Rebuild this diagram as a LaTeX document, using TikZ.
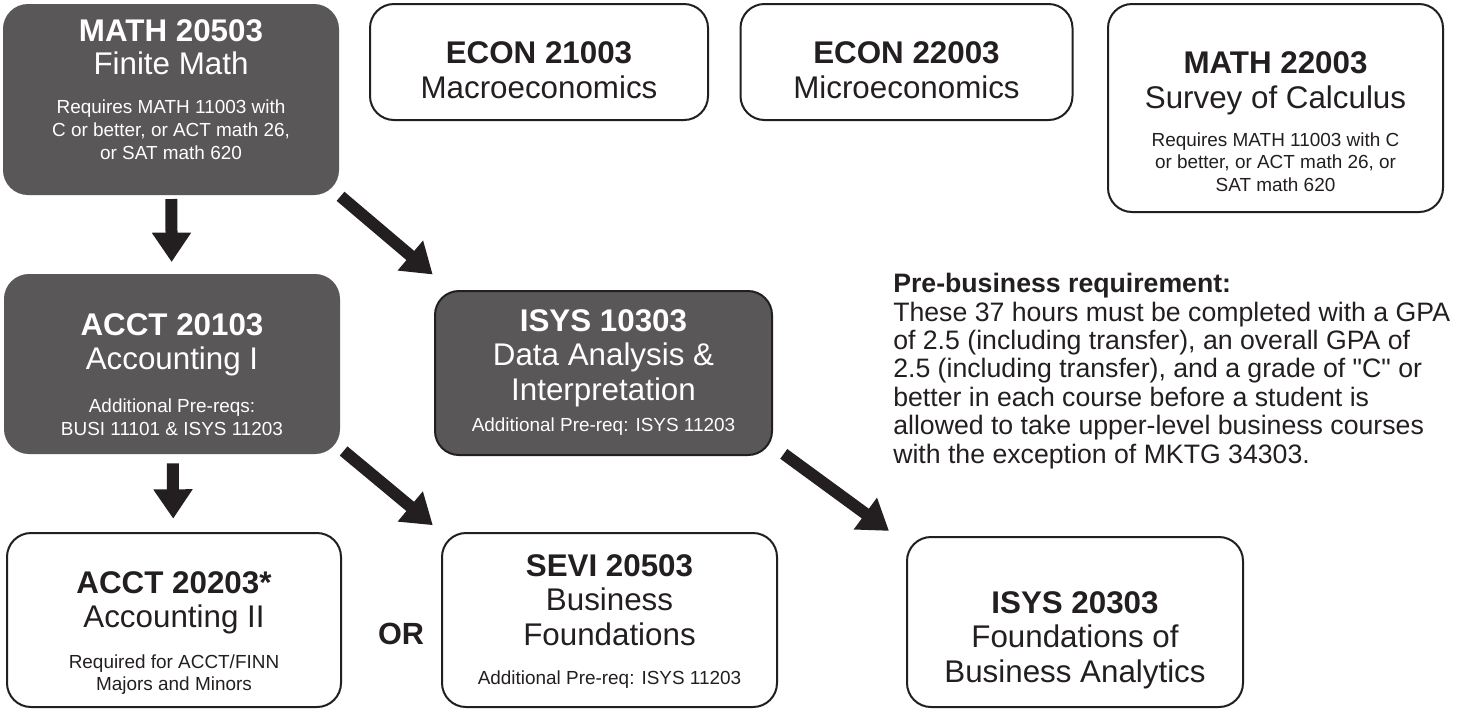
\documentclass[tikz,border=0pt]{standalone}
\usepackage{fontspec}
\setmainfont{Liberation Sans}
\newfontfamily\plainfont{Liberation Sans}
\usetikzlibrary{arrows.meta,positioning}

\definecolor{boxgray}{RGB}{89,87,87}
\definecolor{inkblack}{RGB}{35,31,32}

\newcommand{\ctitle}{\fontsize{23.5}{17}\selectfont\bfseries}
\newcommand{\csub}{\fontsize{23.5}{17}\selectfont}
\newcommand{\cnote}{\fontsize{14.2}{17}\selectfont}
\newcommand{\tstrut}[1]{\rule{0pt}{#1}}
\newcommand{\bstrut}[1]{\rule[-#1]{0pt}{#1}}
\setlength{\lineskiplimit}{-100pt}

\begin{document}
\begin{tikzpicture}[x=0.75pt,y=0.75pt,yscale=-1,
    course/.style={draw=inkblack, line width=1.5pt, rounded corners=18pt, fill=white,
        text=inkblack, align=center, inner sep=0pt, font=\cnote},
    darkcourse/.style={course, draw=boxgray, fill=boxgray, text=white},
    boxsize/.style 2 args={minimum width=#1*0.75pt, minimum height=#2*0.75pt},
    fatarrow/.style={draw=inkblack, line width=9pt, -{Triangle[width=28pt,length=22pt]}}]
    %set diagram frame: 1462 x 708
    \fill[white] (0,0) rectangle (1462,708);
    \useasboundingbox (0,0) rectangle (1462,708);
    % Top row
    \node[darkcourse, boxsize={334}{189}] (math205) at (171,99.5)
        {\ctitle\tstrut{27pt}MATH 20503\\[7.75pt]\csub Finite Math\\[12.8pt]
         Requires MATH 11003 with\\C or better, or ACT math 26,\\or SAT math 620\bstrut{26.2pt}};
    \node[course, boxsize={338}{116}] (econ210) at (539,62)
        {\ctitle\tstrut{44.25pt}ECON 21003\\[9.25pt]\csub Macroeconomics\bstrut{16.5pt}};
    \node[course, boxsize={332}{116}] (econ220) at (906.5,62)
        {\ctitle\tstrut{44.25pt}ECON 22003\\[9.25pt]\csub Microeconomics\bstrut{16.5pt}};
    \node[course, boxsize={335}{208}] (math220) at (1275.5,108)
        {\ctitle\tstrut{51.75pt}MATH 22003\\[9.25pt]\csub Survey of Calculus\\[12pt]
         Requires MATH 11003 with C\\[-0.5pt]or better, or ACT math 26, or\\[0.25pt]SAT math 620\bstrut{15.2pt}};
    % Middle row
    \node[darkcourse, boxsize={334}{178}] (acct201) at (172,364)
        {\ctitle\tstrut{44.25pt}ACCT 20103\\[8.5pt]\csub Accounting I\\[15.8pt]
         Additional Pre-reqs:\\[0.25pt]BUSI 11101 \& ISYS 11203\bstrut{12.2pt}};
    \node[darkcourse, draw=inkblack, boxsize={337}{164}] (isys103) at (603.5,373)
        {\ctitle\tstrut{30pt}ISYS 10303\\[8.5pt]\csub Data Analysis \&\\[9.25pt]\csub Interpretation\\[6.8pt]
         Additional Pre-req: ISYS 11203\bstrut{17.45pt}};
    % Bottom row
    \node[course, boxsize={334}{174}] (acct202) at (174,620)
        {\ctitle\tstrut{45pt}ACCT 20203*\\[8.5pt]\csub Accounting II\\[14.3pt]
         Required for ACCT/FINN\\[-0.5pt]Majors and Minors\bstrut{12.2pt}};
    \node[course, boxsize={335}{174}] (sevi205) at (609.5,620)
        {\ctitle\tstrut{32.25pt}SEVI 20503\\[8.5pt]\csub Business\\[9.25pt]\csub Foundations\\[12.8pt]
         Additional Pre-req: ISYS 11203\bstrut{16.7pt}};
    \node[course, boxsize={336}{170}] (isys203) at (1075,622)
        {\ctitle\tstrut{57pt}ISYS 20303\\[8.5pt]\csub Foundations of\\[9.25pt]\csub Business Analytics\bstrut{18.75pt}};
    % Text Node
    \node[text=inkblack, inner sep=0pt, font=\fontsize{23}{28}\selectfont\bfseries] (ortext) at (401,634) {OR};
    % Text Node
    \node[anchor=north west, align=left, inner sep=0pt, text=inkblack,
        font=\plainfont\fontsize{20}{21.3}\selectfont] (prebiz) at (893,273)
        {\textbf{Pre-business requirement:}\\
         These 37 hours must be completed with a GPA\\
         of 2.5 (including transfer), an overall GPA of\\
         2.5 (including transfer), and a grade of "C" or\\
         better in each course before a student is\\
         allowed to take upper-level business courses\\
         with the exception of MKTG 34303.};
    % Arrows
    \draw[fatarrow, shorten <=3pt, shorten >=9pt] (math205) -- (acct201);
    \draw[fatarrow, shorten <=1.5pt, shorten >=18pt] (math205.south east) -- ([shift={(17,0)}]isys103.north west);
    \draw[fatarrow, shorten <=7pt, shorten >=10pt] (acct201) -- (acct202);
    \draw[fatarrow, shorten <=3.5pt, shorten >=8pt] ([shift={(0,-6)}]acct201.south east) -- (sevi205.north west);
    \draw[fatarrow, shorten <=10pt, shorten >=6.5pt] ([shift={(0,-10)}]isys103.south east) -- ([shift={(-10,0)}]isys203.north west);
\end{tikzpicture}
\end{document}
